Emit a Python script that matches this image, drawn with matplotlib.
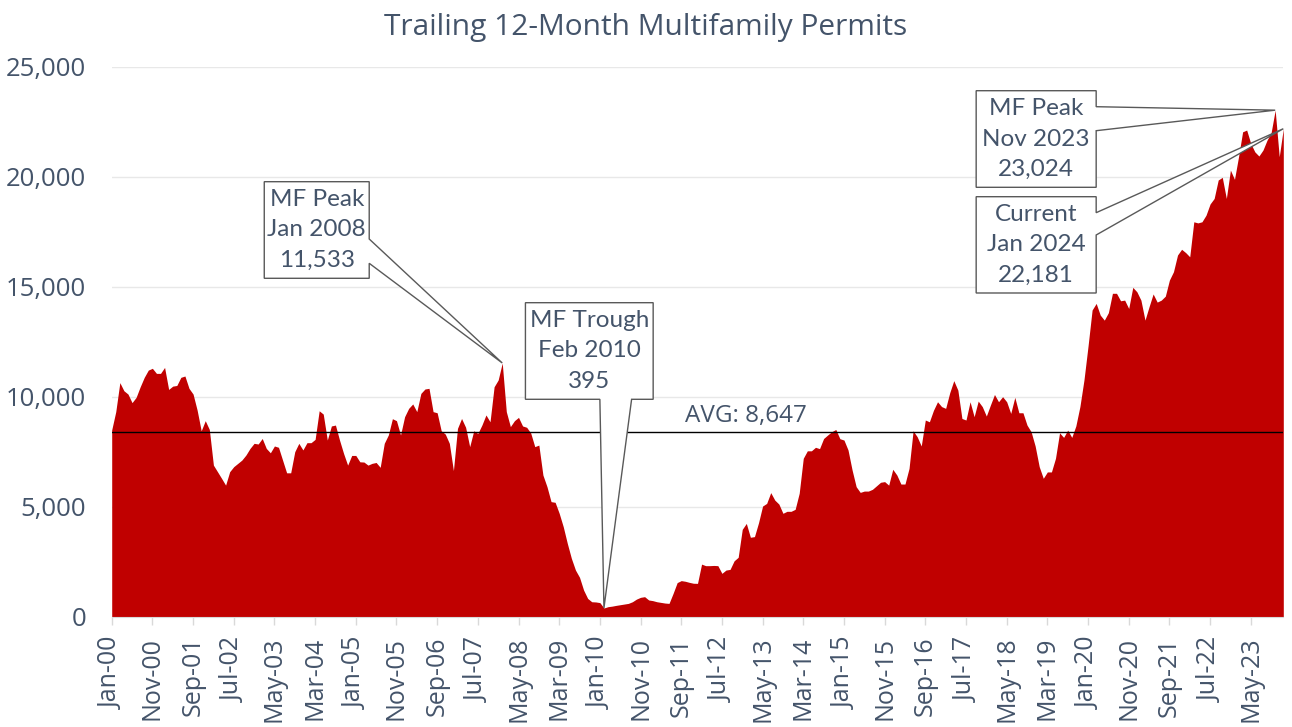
"""
Trailing 12-month multifamily permits, Jan 2000 - Jan 2024
"""
import numpy as np
import pandas as pd

import matplotlib
matplotlib.use('Agg')
import matplotlib.pyplot as plt
from matplotlib.patches import Polygon
from matplotlib.ticker import FuncFormatter

plt.rcParams['font.family'] = ['Open Sans', 'DejaVu Sans']

TITLE = 'Trailing 12-Month Multifamily Permits'
START_MONTH = '2000-01-01'

# 月度数据（每行一年，Jan..Dec）
permits = [
    8490, 9320, 10640, 10270, 10120, 9730, 9970, 10450, 10880, 11210, 11290, 11060,    # 2000
    11060, 11330, 10330, 10480, 10510, 10880, 10940, 10380, 10120, 9390, 8450, 8910,   # 2001
    8510, 6890, 6590, 6290, 5980, 6590, 6820, 6970, 7120, 7350, 7650, 7880,            # 2002
    7850, 8100, 7650, 7450, 7760, 7700, 7120, 6540, 6540, 7500, 7880, 7580,            # 2003
    7910, 7910, 8060, 9360, 9210, 8030, 8670, 8710, 8030, 7420, 6890, 7330,            # 2004
    7330, 7040, 7030, 6890, 6970, 7010, 6790, 7880, 8260, 9000, 8910, 8260,            # 2005
    9090, 9470, 9670, 9320, 10150, 10350, 10380, 9320, 9270, 8450, 8300, 7880,         # 2006
    6640, 8560, 9010, 8610, 7730, 8450, 8330, 8710, 9170, 8860, 10450, 10760,          # 2007
    11533, 9320, 8640, 8910, 9060, 8670, 8610, 8350, 7730, 7800, 6440, 5910,           # 2008
    5230, 5200, 4700, 4090, 3330, 2650, 2120, 1790, 1210, 830, 680, 670,               # 2009
    640, 395, 455, 480, 515, 545, 575, 605, 680, 800, 880, 910,                        # 2010
    760, 730, 680, 650, 620, 605, 1060, 1550, 1640, 1610, 1560, 1520,                  # 2011
    1515, 2390, 2320, 2320, 2330, 2320, 1970, 2120, 2150, 2540, 2700, 3970,            # 2012
    4240, 3610, 3640, 4270, 5030, 5150, 5640, 5300, 5120, 4700, 4790, 4790,            # 2013
    4880, 5610, 7200, 7540, 7540, 7700, 7640, 8100, 8260, 8410, 8510, 8090,            # 2014
    8030, 7580, 6670, 5910, 5650, 5710, 5710, 5790, 5950, 6110, 6140, 5980,            # 2015
    6700, 6440, 6030, 6030, 6740, 8450, 8180, 7760, 8940, 8860, 9380, 9770,            # 2016
    9550, 9470, 10180, 10730, 10300, 9010, 8940, 9770, 9090, 9800, 9550, 9120,         # 2017
    9620, 10100, 9770, 10000, 9770, 9240, 9970, 9270, 9270, 8710, 8410, 7760,          # 2018
    6820, 6290, 6580, 6580, 7200, 8360, 8150, 8480, 8150, 8670, 9550, 10760,           # 2019
    12300, 13940, 14240, 13710, 13480, 13820, 14700, 14700, 14360, 14390, 14010, 14970,  # 2020
    14770, 14390, 13480, 14090, 14670, 14300, 14390, 14570, 15300, 15680, 16440, 16700,  # 2021
    16550, 16360, 17950, 17900, 17950, 18250, 18760, 19010, 19850, 19970, 19010, 20300,  # 2022
    19880, 20910, 22040, 22120, 21510, 21130, 20940, 21210, 21660, 22000, 23024, 20910,  # 2023
    22181,                                                                               # 2024
]

AVG_LEVEL = 8410
AVG_LABEL = 'AVG: 8,647'

# 标注：文字 + 指向的月份序号
peak_2008_text = ['MF Peak', 'Jan 2008', '11,533']
peak_2008_idx = 96
trough_text = ['MF Trough', 'Feb 2010', '395']
trough_idx = 121
peak_2023_text = ['MF Peak', 'Nov 2023', '23,024']
peak_2023_idx = 286
current_text = ['Current', 'Jan 2024', '22,181']
current_idx = 288

TEXT_COLOR = '#44546A'
FILL_COLOR = '#C00000'


def callout(ax, lines, box, side, base, tip):
    """画带尖角的标注框（类似 Excel 的 callout）"""
    x0, x1, y0, y1 = box
    if side == 'right':
        pts = [(x0, y1), (x1, y1), (x1, base[0]), tip, (x1, base[1]), (x1, y0), (x0, y0)]
    else:
        pts = [(x0, y1), (x1, y1), (x1, y0), (base[1], y0), tip, (base[0], y0), (x0, y0)]
    ax.add_patch(Polygon(pts, closed=True, facecolor='white', edgecolor='#595959',
                         linewidth=1.0, zorder=4, clip_on=False))
    ax.text((x0 + x1) / 2, (y0 + y1) / 2, '\n'.join(lines), ha='center', va='center',
            fontsize=17.5, color=TEXT_COLOR, linespacing=1.55, zorder=5,
            family=['Lato', 'DejaVu Sans'])


def main():
    dates = pd.date_range(START_MONTH, periods=len(permits), freq='MS')
    x = np.arange(len(permits))
    y = np.array(permits, dtype=float)

    fig = plt.figure(figsize=(12.92, 7.27), dpi=100)
    ax = fig.add_axes([0.08646, 0.15172, 0.90681, 0.75653])

    ax.fill_between(x, y, 0, color=FILL_COLOR, linewidth=0, zorder=2)
    ax.axhline(AVG_LEVEL, color='black', linewidth=1.0, zorder=3)
    ax.text(156, AVG_LEVEL + 720, AVG_LABEL, ha='center', va='center',
            fontsize=17.5, color=TEXT_COLOR, zorder=3)

    ax.set_xlim(0, len(permits) - 1)
    ax.set_ylim(0, 25000)
    ax.set_yticks(range(0, 25001, 5000))
    ax.yaxis.set_major_formatter(FuncFormatter(lambda v, p: f'{v:,.0f}'))
    ax.grid(axis='y', color='#E8E8E8', linewidth=1.0, zorder=0)
    ax.set_axisbelow(True)

    tick_idx = x[::10]
    ax.set_xticks(tick_idx)
    ax.set_xticklabels(dates[tick_idx].strftime('%b-%y'))

    for name, sp in ax.spines.items():
        sp.set_visible(name == 'bottom')
    ax.spines['bottom'].set_color('#D9D9D9')
    ax.tick_params(axis='y', length=0, pad=18.5, labelsize=18.5, labelcolor=TEXT_COLOR)
    ax.tick_params(axis='x', length=6, width=1, color='#D9D9D9', pad=8.5,
                   labelsize=18, labelcolor=TEXT_COLOR, labelrotation=90)

    # 标注框
    callout(ax, peak_2008_text, (37.5, 63.3, 15382, 19773), 'right',
            (17168, 16064), (peak_2008_idx, y[peak_2008_idx]))
    callout(ax, trough_text, (101.7, 133.1, 9882, 14273), 'bottom',
            (120.0, 127.8), (trough_idx, y[trough_idx]))
    callout(ax, peak_2023_text, (212.5, 242.0, 19518, 23909), 'right',
            (23182, 22091), (peak_2023_idx, y[peak_2023_idx]))
    callout(ax, current_text, (212.5, 242.0, 14714, 19091), 'right',
            (18364, 17350), (current_idx, y[current_idx]))

    fig.text(0.5, 1 - 27 / 727, TITLE, ha='center', va='center',
             fontsize=21.5, color=TEXT_COLOR)

    fig.savefig('out.png', dpi=100)
    plt.close(fig)


if __name__ == '__main__':
    main()
